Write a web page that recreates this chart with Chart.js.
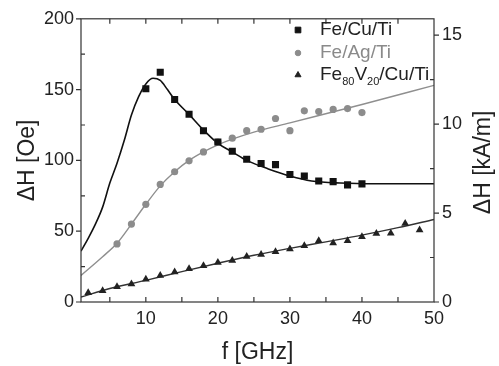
<!DOCTYPE html>
<html>
<head>
<meta charset="utf-8">
<script src="https://cdn.jsdelivr.net/npm/chart.js@4"></script>
<style>
  html, body { margin: 0; padding: 0; background: #fff; }
  #wrap { width: 499px; height: 366px; position: relative; }
</style>
</head>
<body>
<div id="wrap"><canvas id="fmr-chart"></canvas></div>
<script>
// measured points (f in GHz, linewidth in Oe)
const freqCu = [10, 12, 14, 16, 18, 20, 22, 24, 26, 28, 30, 32, 34, 36, 38, 40];
const dhCu = [150.6, 162.2, 143, 132.6, 121, 113, 106.4, 100.8, 97.8, 97, 90, 89, 85.5, 85, 82.7, 83.4];

const freqAg = [6, 8, 10, 12, 14, 16, 18, 20, 22, 24, 26, 28, 30, 32, 34, 36, 38, 40];
const dhAg = [41, 55, 69, 83, 92, 99.7, 106, 113, 115.7, 121, 122, 129.6, 121, 135, 134.5, 136, 136.6, 133.8];

const freqFeV = [2, 4, 6, 8, 10, 12, 14, 16, 18, 20, 22, 24, 26, 28, 30, 32, 34, 36, 38, 40, 42, 44, 46, 48];
const dhFeV = [6.5, 7.9, 10.7, 12.8, 16, 18.8, 21.1, 23.5, 25.6, 27.9, 29.3, 32.1, 33.5, 35.5, 37.4, 39.7, 43.2, 41.6, 43.2, 46, 48.3, 48.6, 55.5, 50.9];

// fitted curves
const fitCuF = [1, 2, 3, 4, 5, 6, 7, 8, 9, 10, 11, 12, 13, 14, 16, 18, 20, 22, 24, 27, 30, 33, 37, 42, 50];
const fitCuDH = [36, 45, 55, 67, 84, 98, 114, 132, 145, 154, 158, 156.5, 150, 143, 132.5, 121.5, 112, 106, 100, 94, 89, 85.5, 84, 83.5, 83.5];

const fitAgF = [1, 4, 6, 8, 10, 12, 14, 16, 18, 20, 22, 25, 30, 40, 50];
const fitAgDH = [18.8, 32, 41.5, 55, 69, 82, 92, 100, 106, 111, 115, 120, 126.5, 139.5, 153];

const fitFeVF = [1, 5, 10, 15, 20, 25, 30, 35, 40, 45, 50];
const fitFeVDH = [3.5, 9.5, 15.3, 21.5, 27.4, 33, 37.9, 42.5, 47.2, 52.5, 58.3];

// tick labels and tick marks
const xLabels = [10, 20, 30, 40, 50];
const xTickMarks = [5, 10, 15, 20, 25, 30, 35, 40, 45];
const leftMajor = [0, 50, 100, 150, 200];
const leftMinor = [25, 75, 125, 175];
const rightMajor = [0, 5, 10, 15];
const rightMinor = [2.5, 7.5, 12.5];

const OE_TO_KAM = 0.0795775; // 1 Oe = 79.58 A/m

const FONT = "'Liberation Sans', Arial, sans-serif";

const toXY = (xs, ys) => xs.map((x, i) => ({ x: x, y: ys[i] }));
const fixTicks = vals => scale => { scale.ticks = vals.map(v => ({ value: v })); };

// frame + inward/outward tick marks + right title + legend
const decorPlugin = {
  id: 'decor',
  afterDatasetsDraw(chart) {
    const { ctx, chartArea: a, scales } = chart;
    const x = scales.x, y = scales.y, y2 = scales.y2;
    ctx.save();
    ctx.strokeStyle = '#333';
    ctx.lineWidth = 1.2;
    ctx.strokeRect(a.left, a.top, a.right - a.left, a.bottom - a.top);

    ctx.beginPath();
    xTickMarks.forEach(v => {
      const px = x.getPixelForValue(v);
      ctx.moveTo(px, a.bottom); ctx.lineTo(px, a.bottom - 5);
      ctx.moveTo(px, a.top); ctx.lineTo(px, a.top + 5);
    });
    leftMajor.forEach(v => {
      const py = y.getPixelForValue(v);
      ctx.moveTo(a.left, py); ctx.lineTo(a.left - 5, py);
    });
    leftMinor.forEach(v => {
      const py = y.getPixelForValue(v);
      ctx.moveTo(a.left, py); ctx.lineTo(a.left + 4, py);
    });
    rightMajor.forEach(v => {
      const py = y2.getPixelForValue(v);
      ctx.moveTo(a.right, py); ctx.lineTo(a.right + 5, py);
    });
    rightMinor.forEach(v => {
      const py = y2.getPixelForValue(v);
      ctx.moveTo(a.right, py); ctx.lineTo(a.right - 4, py);
    });
    ctx.stroke();

    // right axis title reads bottom-to-top like the left one
    ctx.fillStyle = '#222';
    ctx.font = '23px ' + FONT;
    ctx.textAlign = 'center';
    ctx.textBaseline = 'middle';
    ctx.translate(484, (a.top + a.bottom) / 2 + 2);
    ctx.rotate(-Math.PI / 2);
    ctx.fillText('\u0394H [kA/m]', 0, 0);
    ctx.restore();

    // legend
    ctx.save();
    const mx = 298, tx = 320;
    const rows = [
      { y: 30, style: 'rect', r: 4, color: '#111', text: 'Fe/Cu/Ti', tc: '#222' },
      { y: 53, style: 'circle', r: 2.8, color: '#8c8c8c', text: 'Fe/Ag/Ti', tc: '#8a8a8a' },
      { y: 75, style: 'triangle', r: 3.5, color: '#222', text: null, tc: '#222' }
    ];
    rows.forEach(row => {
      ctx.fillStyle = row.color;
      ctx.strokeStyle = row.color;
      Chart.helpers.drawPoint(ctx, { pointStyle: row.style, radius: row.r, rotation: 0, borderWidth: 1 }, mx, row.y);
      ctx.fillStyle = row.tc;
      ctx.textAlign = 'left';
      ctx.textBaseline = 'middle';
      ctx.font = '19px ' + FONT;
      if (row.text) {
        ctx.fillText(row.text, tx, row.y);
      } else {
        // Fe80V20/Cu/Ti with subscripts
        const parts = [['Fe', false], ['80', true], ['V', false], ['20', true], ['/Cu/Ti', false]];
        let cx = tx;
        parts.forEach(([s, sub]) => {
          ctx.font = (sub ? '11px ' : '19px ') + FONT;
          ctx.fillText(s, cx, row.y + (sub ? 7 : 0));
          cx += ctx.measureText(s).width;
        });
      }
    });
    ctx.restore();
  }
};

const ctx = document.getElementById('fmr-chart');

new Chart(ctx, {
  type: 'scatter',
  data: {
    datasets: [
      {
        label: 'Fe/Cu/Ti',
        data: toXY(freqCu, dhCu),
        pointStyle: 'rect',
        pointRadius: 5,
        backgroundColor: '#111',
        borderColor: '#111',
        borderWidth: 0
      },
      {
        label: 'Fe/Ag/Ti',
        data: toXY(freqAg, dhAg),
        pointStyle: 'circle',
        pointRadius: 3.6,
        backgroundColor: '#8c8c8c',
        borderColor: '#8c8c8c',
        borderWidth: 0
      },
      {
        label: 'Fe80V20/Cu/Ti',
        data: toXY(freqFeV, dhFeV),
        pointStyle: 'triangle',
        pointRadius: 4.5,
        backgroundColor: '#222',
        borderColor: '#222',
        borderWidth: 0
      },
      {
        label: 'fit Cu',
        data: toXY(fitCuF, fitCuDH),
        showLine: true,
        pointRadius: 0,
        borderColor: '#111',
        borderWidth: 1.6,
        cubicInterpolationMode: 'monotone'
      },
      {
        label: 'fit Ag',
        data: toXY(fitAgF, fitAgDH),
        showLine: true,
        pointRadius: 0,
        borderColor: '#8f8f8f',
        borderWidth: 1.4,
        cubicInterpolationMode: 'monotone'
      },
      {
        label: 'fit FeV',
        data: toXY(fitFeVF, fitFeVDH),
        showLine: true,
        pointRadius: 0,
        borderColor: '#333',
        borderWidth: 1.4,
        cubicInterpolationMode: 'monotone'
      }
    ]
  },
  options: {
    responsive: true,
    maintainAspectRatio: false,
    animation: false,
    layout: { padding: { top: 15, left: 0, right: 0, bottom: 0 } },
    plugins: {
      legend: { display: false },
      tooltip: { enabled: false }
    },
    scales: {
      x: {
        type: 'linear',
        position: 'bottom',
        min: 1,
        max: 50,
        grid: { display: false, drawTicks: false },
        border: { display: false },
        afterBuildTicks: fixTicks(xLabels),
        ticks: {
          padding: 6,
          color: '#222',
          font: { family: FONT, size: 18 },
          maxRotation: 0,
          autoSkip: false
        },
        title: {
          display: true,
          text: 'f [GHz]',
          color: '#222',
          font: { family: FONT, size: 23 },
          padding: { top: 0, bottom: 0 }
        },
        afterFit: scale => { scale.height = 64; }
      },
      y: {
        type: 'linear',
        position: 'left',
        min: 0,
        max: 200,
        grid: { display: false, drawTicks: false },
        border: { display: false },
        afterBuildTicks: fixTicks(leftMajor),
        ticks: {
          padding: 7,
          color: '#222',
          autoSkip: false,
          font: { family: FONT, size: 18 }
        },
        title: {
          display: true,
          text: '\u0394H [Oe]',
          color: '#222',
          font: { family: FONT, size: 23 },
          padding: { top: 14, bottom: 0 }
        },
        afterFit: scale => { scale.width = 81; }
      },
      y2: {
        type: 'linear',
        position: 'right',
        min: 0,
        max: 200 * OE_TO_KAM,
        grid: { display: false, drawTicks: false },
        border: { display: false },
        afterBuildTicks: fixTicks(rightMajor),
        ticks: {
          padding: 8,
          color: '#222',
          autoSkip: false,
          font: { family: FONT, size: 18 }
        },
        afterFit: scale => { scale.width = 65; }
      }
    }
  },
  plugins: [decorPlugin]
});
</script>
</body>
</html>
